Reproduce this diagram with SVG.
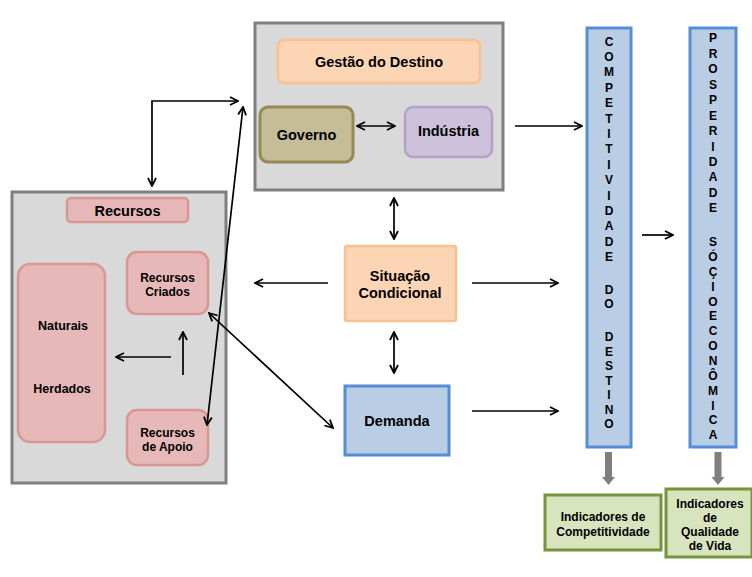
<svg xmlns="http://www.w3.org/2000/svg" width="752" height="577" viewBox="0 0 752 577">
<style>
text{font-family:"Liberation Sans",Arial,sans-serif;font-weight:bold;fill:#000;text-anchor:middle}
.cont{fill:#d9d9d9;stroke:#7f7f7f;stroke-width:3}
.orange{fill:#fcd5b4;stroke:#fac090;stroke-width:2.5}
.pink{fill:#e6b9b8;stroke:#d99694;stroke-width:2.5}
.blue{fill:#b9cde5;stroke:#558ed5;stroke-width:3}
.green{fill:#d7e4bd;stroke:#77933c;stroke-width:3}
.con{stroke:#000;stroke-width:1.7;fill:none}
.t14{font-size:14.5px}
.t12{font-size:12px}
.col{font-size:12px}
</style>
<defs>
<marker id="ah" viewBox="0 0 10 10" refX="9" refY="5" markerWidth="10" markerHeight="10" markerUnits="userSpaceOnUse" orient="auto-start-reverse">
<path d="M1,1 L9,5 L1,9" fill="none" stroke="#000" stroke-width="1.8"/>
</marker>
</defs>
<rect width="752" height="577" fill="#fff"/>

<g id="gestao-container">
<rect class="cont" x="255" y="23" width="248" height="167"/>
</g>
<g id="gestao">
<rect class="orange" x="278" y="40" width="202" height="43" rx="6"/>
<text class="t14" x="379" y="67">Gestão do Destino</text>
</g>
<g id="governo">
<rect x="260" y="107" width="93" height="55" rx="8" fill="#c4bd97" stroke="#948a54" stroke-width="3"/>
<text class="t14" x="306.5" y="140">Governo</text>
</g>
<g id="industria">
<rect x="405" y="107" width="87" height="50" rx="8" fill="#ccc0da" stroke="#b3a2c7" stroke-width="2.5"/>
<text class="t14" x="448.5" y="136">Indústria</text>
</g>

<g id="recursos-container">
<rect class="cont" x="12" y="192" width="214" height="291"/>
</g>
<g id="recursos">
<rect class="pink" x="67" y="198" width="121" height="24" rx="4"/>
<text class="t14" x="127.5" y="215.5">Recursos</text>
</g>
<g id="naturais">
<rect class="pink" x="18" y="264" width="87" height="178" rx="12"/>
<text style="font-size:12.5px" x="63" y="330">Naturais</text>
<text style="font-size:12.5px" x="62" y="393">Herdados</text>
</g>
<g id="criados">
<rect class="pink" x="127" y="252" width="81" height="62" rx="10"/>
<text class="t12" x="167.5" y="281.5">Recursos</text>
<text class="t12" x="167.5" y="295.5">Criados</text>
</g>
<g id="apoio">
<rect class="pink" x="127" y="410" width="81" height="55" rx="10"/>
<text class="t12" x="167.5" y="436.5">Recursos</text>
<text class="t12" x="167.5" y="450.5">de Apoio</text>
</g>

<g id="situacao">
<rect class="orange" x="345" y="246" width="111" height="75" rx="2"/>
<text class="t14" x="400" y="281">Situação</text>
<text class="t14" x="400" y="298">Condicional</text>
</g>
<g id="demanda">
<rect class="blue" x="345" y="386" width="104" height="69"/>
<text class="t14" x="397" y="426">Demanda</text>
</g>

<g id="competitividade">
<rect class="blue" x="587" y="28" width="44" height="419"/>
<text class="col"><tspan x="609" y="45.6">C</tspan><tspan x="609" y="61">O</tspan><tspan x="609" y="76.4">M</tspan><tspan x="609" y="91.8">P</tspan><tspan x="609" y="107.2">E</tspan><tspan x="609" y="122.6">T</tspan><tspan x="609" y="138">I</tspan><tspan x="609" y="153.4">T</tspan><tspan x="609" y="168.8">I</tspan><tspan x="609" y="184.2">V</tspan><tspan x="609" y="199.6">I</tspan><tspan x="609" y="215">D</tspan><tspan x="609" y="230.4">A</tspan><tspan x="609" y="245.8">D</tspan><tspan x="609" y="261.2">E</tspan><tspan x="609" y="293.5">D</tspan><tspan x="609" y="307.5">O</tspan><tspan x="609" y="341">D</tspan><tspan x="609" y="355.5">E</tspan><tspan x="609" y="370">S</tspan><tspan x="609" y="384.5">T</tspan><tspan x="609" y="399">I</tspan><tspan x="609" y="413.5">N</tspan><tspan x="609" y="428">O</tspan></text>
</g>
<g id="prosperidade">
<rect class="blue" x="690" y="28" width="46" height="419"/>
<text class="col"><tspan x="713" y="42.3">P</tspan><tspan x="713" y="57.8">R</tspan><tspan x="713" y="73.2">O</tspan><tspan x="713" y="88.7">S</tspan><tspan x="713" y="104.1">P</tspan><tspan x="713" y="119.6">E</tspan><tspan x="713" y="135">R</tspan><tspan x="713" y="150.5">I</tspan><tspan x="713" y="165.9">D</tspan><tspan x="713" y="181.4">A</tspan><tspan x="713" y="196.8">D</tspan><tspan x="713" y="212.3">E</tspan><tspan x="713" y="246">S</tspan><tspan x="713" y="260.9">Ó</tspan><tspan x="713" y="275.7">Ç</tspan><tspan x="713" y="290.6">I</tspan><tspan x="713" y="305.5">O</tspan><tspan x="713" y="320.4">E</tspan><tspan x="713" y="335.2">C</tspan><tspan x="713" y="350.1">O</tspan><tspan x="713" y="365">N</tspan><tspan x="713" y="379.8">Ô</tspan><tspan x="713" y="394.7">M</tspan><tspan x="713" y="409.6">I</tspan><tspan x="713" y="424.4">C</tspan><tspan x="713" y="439.3">A</tspan></text>
</g>

<g id="ind-competitividade">
<rect class="green" x="545" y="495" width="116" height="55"/>
<text class="t12" x="603" y="521">Indicadores de</text>
<text class="t12" x="603" y="535.5">Competitividade</text>
</g>
<g id="ind-qualidade">
<rect class="green" x="666" y="489" width="86" height="68"/>
<text class="t12" x="710" y="507.5">Indicadores</text>
<text class="t12" x="710" y="521.5">de</text>
<text class="t12" x="710" y="535.5">Qualidade</text>
<text class="t12" x="710" y="549.5">de Vida</text>
</g>

<g id="connectors">
<line class="con" x1="357" y1="126" x2="395" y2="126" marker-start="url(#ah)" marker-end="url(#ah)"/>
<path class="con" d="M152,186 V101 H238" marker-start="url(#ah)" marker-end="url(#ah)"/>
<line class="con" x1="243" y1="107" x2="207" y2="425" marker-start="url(#ah)" marker-end="url(#ah)"/>
<line class="con" x1="209" y1="313" x2="333" y2="428" marker-start="url(#ah)" marker-end="url(#ah)"/>
<line class="con" x1="515" y1="126" x2="582" y2="126" marker-end="url(#ah)"/>
<line class="con" x1="394" y1="198" x2="394" y2="239" marker-start="url(#ah)" marker-end="url(#ah)"/>
<line class="con" x1="328" y1="283" x2="255" y2="283" marker-end="url(#ah)"/>
<line class="con" x1="472" y1="283" x2="558" y2="283" marker-end="url(#ah)"/>
<line class="con" x1="394" y1="332" x2="394" y2="373" marker-start="url(#ah)" marker-end="url(#ah)"/>
<line class="con" x1="472" y1="411" x2="558" y2="411" marker-end="url(#ah)"/>
<line class="con" x1="642" y1="235" x2="673" y2="235" marker-end="url(#ah)"/>
<line class="con" x1="171" y1="357" x2="116" y2="357" marker-end="url(#ah)"/>
<line class="con" x1="183" y1="375" x2="183" y2="332" marker-end="url(#ah)"/>
<path d="M605,452 H612 V477 H615 L608.5,485 L602,477 H605 Z" fill="#7f7f7f"/>
<path d="M714.5,452 H721.5 V477 H724.5 L718,485 L711.5,477 H714.5 Z" fill="#7f7f7f"/>
</g>
</svg>
